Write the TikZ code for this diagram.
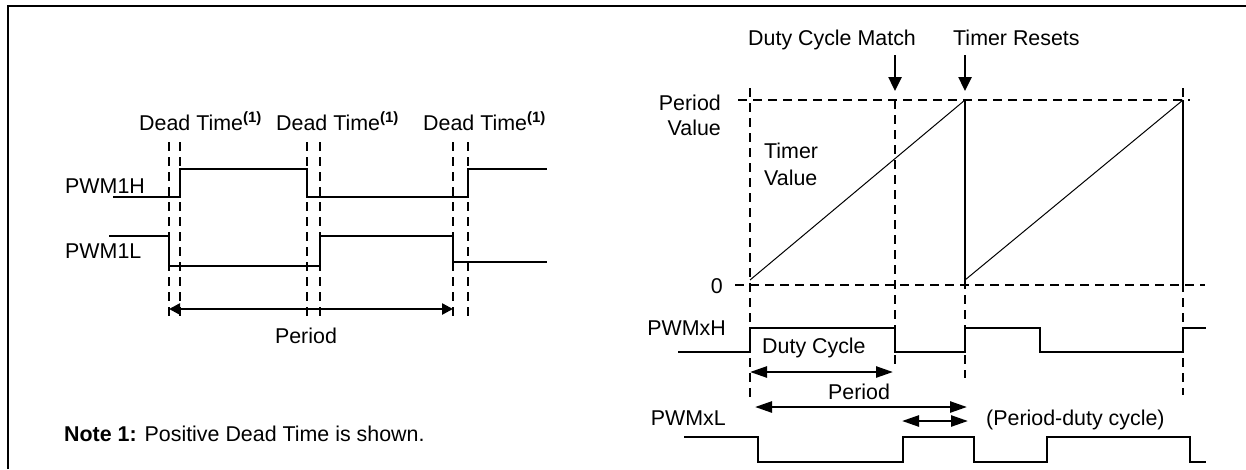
\documentclass[tikz,border=0pt]{standalone}
\usepackage{fontspec}
\setmainfont{Liberation Sans}
\usetikzlibrary{arrows.meta}
\tikzset{
	wave/.style={line width=2.5pt},
	guide/.style={line width=2pt, dash pattern=on 9pt off 6pt},
	ramp/.style={line width=1pt},
	dimarrow/.style={line width=2.5pt, {Triangle[length=11pt,width=11pt]}-{Triangle[length=11pt,width=11pt]}},
	bigarrow/.style={line width=2.5pt, {Triangle[length=17pt,width=11pt]}-{Triangle[length=17pt,width=11pt]}},
	downarrow/.style={line width=2.5pt, -{Triangle[length=14pt,width=13pt]}},
	lbl/.style={inner sep=0pt, font=\fontsize{21.4}{25}\selectfont},
}
\def\deadtime{Dead Time\textsuperscript{\bfseries(1)}}

\begin{document}
\begin{tikzpicture}[x=1pt, y=-1pt]
		%%%%% START %%%%%
		\useasboundingbox (0,0) rectangle (1246,469);
		\draw[line width=2.5pt] (8,469) -- (8,6) -- (1246,6);
		
		%%%%% LEFT: dead time %%%%%
		\node[lbl, anchor=base west] (dt1) at (139,130) {\deadtime};
		\node[lbl, anchor=base west] (dt2) at (276,130) {\deadtime};
		\node[lbl, anchor=base west] (dt3) at (423,130) {\deadtime};
		
		\draw[guide] (169,142) -- (169,320);
		\draw[guide] (180,142) -- (180,320);
		\draw[guide] (307,142) -- (307,320);
		\draw[guide] (320,142) -- (320,320);
		\draw[guide] (453,142) -- (453,320);
		\draw[guide] (468,142) -- (468,320);
		
		\node[lbl, anchor=base west] (pwmh) at (65,193) {PWM1H};
		\draw[wave] (113,197) -- (180,197) -- (180,169) -- (307,169) -- (307,197) -- (468,197) -- (468,169) -- (547,169);
		
		\node[lbl, anchor=base west] (pwml) at (65,258) {PWM1L};
		\draw[wave] (109,236) -- (169,236) -- (169,266) -- (320,266) -- (320,236) -- (453,236) -- (453,262) -- (547,262);
		
		\coordinate (perL) at (169,309);
		\coordinate (perR) at (453,309);
		\draw[dimarrow] (perL) -- (perR);
		\node[lbl, anchor=base] (perlbl) at (306,343) {Period};
		
		\node[lbl, anchor=base west] (note) at (64,441) {\textbf{Note 1:} Positive Dead Time is shown.};
		
		%%%%% RIGHT: timer %%%%%
		\node[lbl, anchor=base west] (match) at (748,45) {Duty Cycle Match};
		\node[lbl, anchor=base west] (reset) at (953,45) {Timer Resets};
		\coordinate (matchA) at (895,55);
		\coordinate (matchB) at (895,91);
		\coordinate (resetA) at (965,55);
		\coordinate (resetB) at (965,91);
		\draw[downarrow] (matchA) -- (matchB);
		\draw[downarrow] (resetA) -- (resetB);
		
		\node[lbl, anchor=base east] (pv1) at (721,110) {Period};
		\node[lbl, anchor=base east] (pv2) at (721,135) {Value};
		\node[lbl, anchor=base west] (tv1) at (764,158) {Timer};
		\node[lbl, anchor=base west] (tv2) at (764,185) {Value};
		\node[lbl, anchor=base east] (zero) at (723,293) {0};
		
		\draw[guide] (738,100) -- (1190,100);
		\draw[guide] (735,285) -- (1205,285);
		\draw[guide] (750,88) -- (750,397);
		\draw[guide] (895,100) -- (895,365);
		\draw[guide] (965,100) -- (965,378);
		\draw[guide] (1183,88) -- (1183,395);
		
		\draw[ramp] (750,280) -- (965,100);
		\draw[ramp] (965,280) -- (1183,100);
		\draw[wave] (965,100) -- (965,285);
		\draw[wave] (1183,100) -- (1183,285);
		
		\node[lbl, anchor=base east] (pwmxh) at (726,335) {PWMxH};
		\draw[wave] (678,352) -- (750,352) -- (750,328) -- (895,328) -- (895,352) -- (965,352) -- (965,328) -- (1040,328) -- (1040,352) -- (1183,352) -- (1183,328) -- (1206,328);
		
		\node[lbl, anchor=base west] (duty) at (762,353) {Duty Cycle};
		\coordinate (dutyL) at (750,372);
		\coordinate (dutyR) at (893,372);
		\draw[bigarrow] (dutyL) -- (dutyR);
		
		\node[lbl, anchor=base] (per2) at (859,399) {Period};
		\coordinate (per2L) at (755,407);
		\coordinate (per2R) at (967,407);
		\draw[bigarrow] (per2L) -- (per2R);
		
		\node[lbl, anchor=base west] (offlbl) at (986,425) {(Period-duty cycle)};
		\coordinate (offL) at (902,421);
		\coordinate (offR) at (968,421);
		\draw[bigarrow] (offL) -- (offR);
		
		\node[lbl, anchor=base east] (pwmxl) at (726,425) {PWMxL};
		\draw[wave] (684,437) -- (758,437) -- (758,462) -- (903,462) -- (903,437) -- (974,437) -- (974,462) -- (1047,462) -- (1047,437) -- (1190,437) -- (1190,462) -- (1206,462);
		%%%%% END %%%%%
\end{tikzpicture}
\end{document}
